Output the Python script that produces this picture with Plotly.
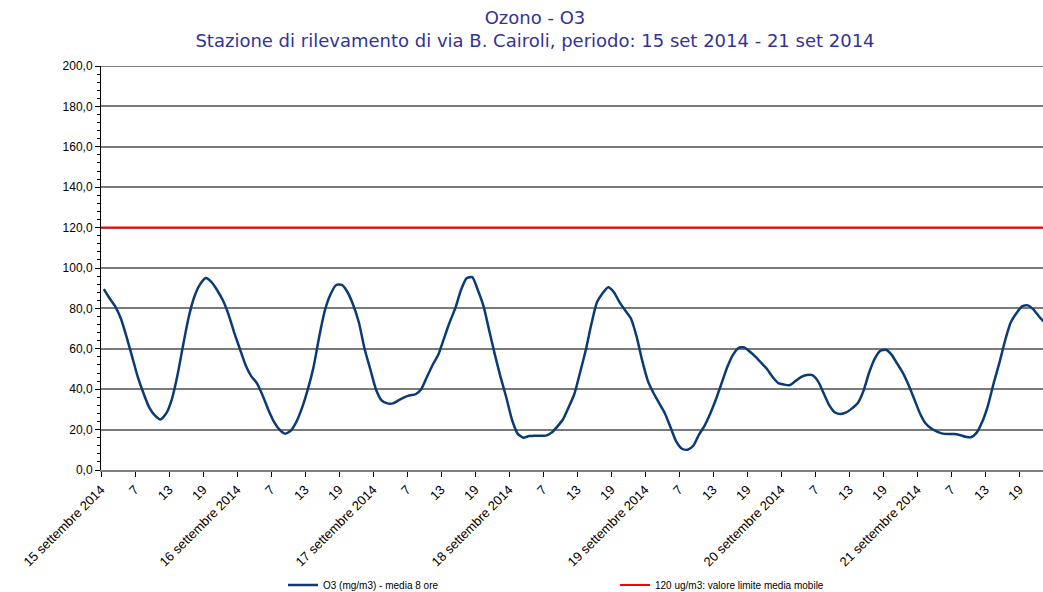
import plotly.graph_objects as go

# hourly values, 15 set 2014 01:00 onward (index = hour slot)
o3_values = [
    89.5, 85, 81, 75, 66, 56, 46, 38, 31, 27, 25, 28, 35, 47, 62, 76, 86, 92, 95, 93, 89, 84, 77, 68,
    60, 52, 46.5, 43, 37, 30, 24, 20, 18, 19.5, 24, 31, 40, 51, 66, 79, 87, 91.6, 91.6, 88, 81.7, 73, 60, 50,
    40, 34.5, 33, 33, 34.5, 36, 37, 37.5, 40, 46, 52, 57, 65, 73, 80, 89, 94.9, 95.5, 89, 81, 69, 57, 46, 36,
    25, 18, 16, 16.8, 17, 17, 17, 18.5, 21.5, 25, 31, 37.5, 48, 59, 72, 83, 87.5, 90.5, 88, 83, 79, 75, 66, 54,
    44, 38, 33, 28, 21, 14, 10.5, 10, 12, 17.5, 22, 28, 35, 43, 51, 57, 60.5, 60.7, 58.5, 56, 53, 50, 46, 43,
    42.3, 42, 44, 46, 47, 47, 44, 38, 32, 28.5, 27.7, 28.5, 30.5, 33, 39, 48, 55, 59, 59.5, 57, 52.5, 48, 42, 35,
    28, 23, 20.5, 19, 18, 17.8, 17.8, 17.3, 16.5, 16.2, 18.5, 24, 32, 43, 53, 64, 73, 77.6, 81, 81.5, 79.5, 76, 73,
]
limit_value = 120
day_labels = ["15 settembre 2014", "16 settembre 2014", "17 settembre 2014", "18 settembre 2014",
              "19 settembre 2014", "20 settembre 2014", "21 settembre 2014"]
hour_labels = ["7", "13", "19"]
y_ticks = [0, 20, 40, 60, 80, 100, 120, 140, 160, 180, 200]

hours = [i + 0.5 for i in range(len(o3_values))]
limit_x = [0, 168]
limit_y = [limit_value, limit_value]

tickvals, ticktext = [], []
for d, lab in enumerate(day_labels):
    tickvals.append(d * 24)
    ticktext.append(lab)
    for k, h in enumerate(hour_labels):
        tickvals.append(d * 24 + 6 * (k + 1))
        ticktext.append(h)

fig = go.Figure()
fig.add_trace(go.Scatter(x=hours, y=o3_values, mode="lines", name="O3 (mg/m3) - media 8 ore",
                         line=dict(color="#0b3a75", width=2.5, shape="spline", smoothing=0.6)))
fig.add_trace(go.Scatter(x=limit_x, y=limit_y, mode="lines", name="120 ug/m3: valore limite media mobile",
                         line=dict(color="#ff0000", width=2)))

fig.update_layout(
    width=1043, height=592,
    margin=dict(l=101, r=0, t=66, b=122, autoexpand=False),
    paper_bgcolor="white", plot_bgcolor="white",
    separators=",.",
    title=dict(text="Ozono - O3<br>Stazione di rilevamento di via B. Cairoli, periodo: 15 set 2014 - 21 set 2014",
               x=535 / 1043, xanchor="center", y=1 - 24 / 592, yanchor="middle", automargin=False,
               font=dict(family="DejaVu Sans", size=18, color="#333399")),
    font=dict(family="Liberation Sans, Arial", size=12, color="black"),
    showlegend=True,
    legend=dict(orientation="h", x=(283 - 101) / 942, xanchor="left", y=(470 - 585) / 404, yanchor="middle",
                entrywidth=287, entrywidthmode="pixels", font=dict(size=10, family="Liberation Sans, Arial"),
                bgcolor="rgba(0,0,0,0)", tracegroupgap=0),
    shapes=[dict(type="line", xref="paper", yref="y", x0=0, x1=1, y0=200, y1=200,
                 line=dict(color="#7a7a7a", width=2), layer="below")],
)
fig.update_xaxes(range=[0, 166.2], tickmode="array", tickvals=tickvals, ticktext=ticktext, tickangle=-45,
                 ticks="outside", ticklen=5, tickcolor="black", showgrid=False, zeroline=False, automargin=False,
                 showline=True, linecolor="#808080", linewidth=2, tickfont=dict(size=13))
fig.update_yaxes(range=[0, 200], tickmode="array", tickvals=y_ticks, tickformat=".1f", automargin=False,
                 ticks="outside", ticklen=5, tickcolor="black",
                 minor=dict(dtick=4, ticks="outside", ticklen=3, tickcolor="black", showgrid=False),
                 showgrid=True, gridcolor="#7a7a7a", gridwidth=2, zeroline=False,
                 showline=True, linecolor="black", linewidth=1, tickfont=dict(size=12))

fig.write_html("out.html", config={"displayModeBar": False},
               post_script="document.body.style.margin='0';document.body.style.overflow='hidden';")
